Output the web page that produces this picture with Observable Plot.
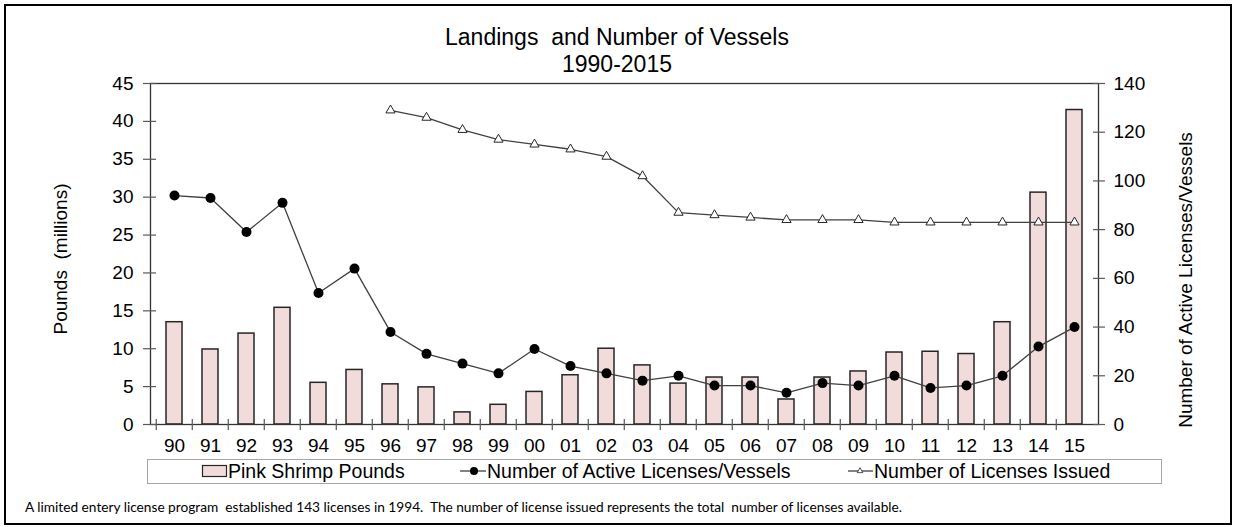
<!DOCTYPE html>
<html><head><meta charset="utf-8">
<script src="https://cdn.jsdelivr.net/npm/d3@7"></script>
<script src="https://cdn.jsdelivr.net/npm/@observablehq/plot@0.6"></script>
<style>
body{margin:0;background:#fff;}
#wrap{position:relative;width:1235px;height:527px;overflow:hidden;font-family:"Liberation Sans",Arial,sans-serif;color:#000;}
#border{position:absolute;left:4px;top:4px;width:1228px;height:521px;border:2px solid #000;box-sizing:border-box;}
#chart{position:absolute;left:0;top:0;}
#title{position:absolute;left:140px;width:954px;top:24px;text-align:center;font-size:23px;line-height:27px;}
#overlay{position:absolute;left:0;top:0;}
</style></head>
<body><div id="wrap"><div id="border"></div><div id="chart"></div>
<div id="title">Landings&nbsp; and Number of Vessels<br>1990-2015</div>
<svg id="overlay" width="1235" height="527"></svg>
</div>
<script>
const years = ["90","91","92","93","94","95","96","97","98","99","00","01","02","03","04","05","06","07","08","09","10","11","12","13","14","15"];
const pounds = [13.5, 9.9, 12.0, 15.4, 5.5, 7.2, 5.3, 4.9, 1.6, 2.6, 4.3, 6.5, 10.0, 7.8, 5.4, 6.2, 6.2, 3.3, 6.2, 7.0, 9.5, 9.6, 9.3, 13.5, 30.6, 41.5];
const active = [94, 93, 79, 91, 54, 64, 38, 29, 25, 21, 31, 24, 21, 18, 20, 16, 16, 13, 17, 16, 20, 15, 16, 20, 32, 40];
const issued = [null, null, null, null, null, null, 129, 126, 121, 117, 115, 113, 110, 102, 87, 86, 85, 84, 84, 84, 83, 83, 83, 83, 83, 83];
const leftTicks = [0, 5, 10, 15, 20, 25, 30, 35, 40, 45];
const rightTicks = [0, 20, 40, 60, 80, 100, 120, 140];
const leftLabel = "Pounds  (millions)";
const rightLabel = "Number of Active Licenses/Vessels";
const legendLabels = ["Pink Shrimp Pounds", "Number of Active Licenses/Vessels", "Number of Licenses Issued"];
const caption = "A limited entery license program  established 143 licenses in 1994.  The number of license issued represents the total  number of licenses available.";

const W = 1235, H = 527, mL = 150, mR = 137, mT = 83, mB = 103;
const step = (W - mL - mR) / years.length;
const k = 45 / 140;
const data = years.map((y, i) => ({year: y, pounds: pounds[i], active: active[i], issued: issued[i]}));
const issuedData = data.filter(d => d.issued != null);
const barFill = "#f2dcdb", dark = "#262626", lineC = "#404040";

const chart = Plot.plot({
  width: W, height: H, marginLeft: mL, marginRight: mR, marginTop: mT, marginBottom: mB,
  style: {fontFamily: "Liberation Sans, Arial, sans-serif", fontSize: "19px", color: "#000", background: "transparent", overflow: "visible"},
  x: {domain: years, paddingInner: 0.56, paddingOuter: 0.28, label: null},
  y: {domain: [0, 45], label: null},
  marks: [
    Plot.barY(data, {x: "year", y: "pounds", fill: barFill, stroke: dark, strokeWidth: 1.5}),
    Plot.line(data, {x: "year", y: d => d.active * k, stroke: lineC, strokeWidth: 1.3}),
    Plot.dot(data, {x: "year", y: d => d.active * k, r: 5, fill: "#000"}),
    Plot.line(issuedData, {x: "year", y: d => d.issued * k, stroke: lineC, strokeWidth: 1.3}),
    Plot.dot(issuedData, {x: "year", y: d => d.issued * k, symbol: "triangle", r: 3.4, fill: "#fff", stroke: dark, strokeWidth: 1}),
    Plot.frame({stroke: "#333", strokeWidth: 1.3}),
    Plot.axisY({ticks: leftTicks, tickSize: 13, dx: 6, text: null, stroke: "#595959", strokeWidth: 1.2}),
    Plot.axisY({ticks: leftTicks, tickSize: 0, tickPadding: 17, label: null, fill: "#000"}),
    Plot.axisY({anchor: "right", ticks: rightTicks.map(v => v * k), tickSize: 12, dx: -6, text: null, stroke: "#595959", strokeWidth: 1.2}),
    Plot.axisY({anchor: "right", ticks: rightTicks.map(v => v * k), tickFormat: d => Math.round(d / k), tickSize: 0, tickPadding: 15, label: null, fill: "#000"}),
    Plot.axisX({ticks: years, tickSize: 11, dy: -5, dx: -step / 2, text: null, stroke: "#595959", strokeWidth: 1.2}),
    Plot.axisX({tickSize: 0, tickPadding: 14, label: null, fill: "#000"}),
    Plot.text([leftLabel], {text: d => d, frameAnchor: "left", textAnchor: "middle", rotate: -90, dx: -90, dy: 5, fill: "#000"}),
    Plot.text([rightLabel], {text: d => d, frameAnchor: "right", textAnchor: "middle", rotate: -90, dx: 87, dy: 26, fill: "#000"})
  ]
});
document.getElementById("chart").appendChild(chart);

// legend and caption
const ov = d3.select("#overlay");
ov.append("rect").attr("x", 147.5).attr("y", 459.5).attr("width", 1014).attr("height", 24).attr("fill", "#fff").attr("stroke", "#a6a6a6").attr("stroke-width", 1);
ov.append("rect").attr("x", 202.5).attr("y", 465.5).attr("width", 24).attr("height", 11).attr("fill", barFill).attr("stroke", dark).attr("stroke-width", 1.2);
const lt = {"font-family": "Liberation Sans, Arial, sans-serif", "font-size": "19.5px"};
function txt(x, s) {
  const t = ov.append("text").attr("x", x).attr("y", 478).text(s).attr("fill", "#000");
  for (const [a, v] of Object.entries(lt)) t.attr(a, v);
}
txt(228, legendLabels[0]);
ov.append("line").attr("x1", 460).attr("x2", 486).attr("y1", 471).attr("y2", 471).attr("stroke", lineC).attr("stroke-width", 1.3);
ov.append("circle").attr("cx", 474).attr("cy", 471).attr("r", 4).attr("fill", "#000");
txt(487, legendLabels[1]);
ov.append("line").attr("x1", 848).attr("x2", 873).attr("y1", 471).attr("y2", 471).attr("stroke", lineC).attr("stroke-width", 1.3);
ov.append("path").attr("d", d3.symbol(d3.symbolTriangle, 14)()).attr("transform", "translate(860,471)").attr("fill", "#fff").attr("stroke", dark).attr("stroke-width", 0.8);
txt(874, legendLabels[2]);
ov.append("text").attr("x", 25).attr("y", 512).text(caption)
  .attr("font-family", "Lato, 'Open Sans', sans-serif").attr("font-size", "12.5px").attr("fill", "#000")
  .attr("textLength", 877).attr("lengthAdjust", "spacingAndGlyphs").attr("xml:space", "preserve").style("white-space", "pre");
</script>
</body></html>
